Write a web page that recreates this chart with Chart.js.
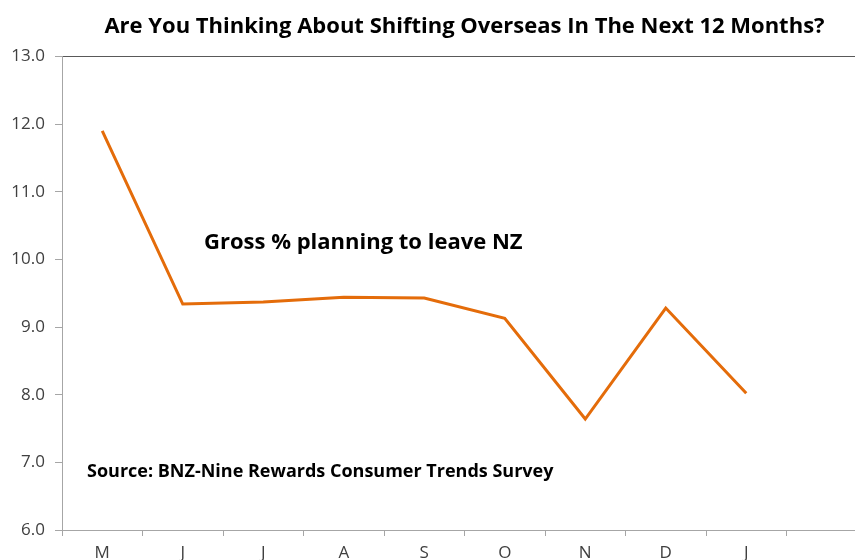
<!DOCTYPE html>
<html>
<head>
<meta charset="utf-8">
<script src="https://cdn.jsdelivr.net/npm/chart.js@4.4.1/dist/chart.umd.min.js"></script>
<style>
  html, body { margin: 0; padding: 0; background: #fff; overflow: hidden; }
  #wrap { width: 855px; height: 560px; overflow: hidden; }
</style>
</head>
<body>
<div id="wrap"><canvas id="chart" width="867" height="560"></canvas></div>
<script>
// monthly survey readings, last slot left empty on purpose
const months = ['M', 'J', 'J', 'A', 'S', 'O', 'N', 'D', 'J', ''];
const grossLeaving = [11.9, 9.34, 9.37, 9.44, 9.43, 9.13, 7.64, 9.28, 8.02, null];
const yTicks = [6, 7, 8, 9, 10, 11, 12, 13];

const titleText = 'Are You Thinking About Shifting Overseas In The Next 12 Months?';
const seriesNote = 'Gross % planning to leave NZ';
const sourceNote = 'Source: BNZ-Nine Rewards Consumer Trends Survey';

const FONT = '"Open Sans", sans-serif';

// free-floating text boxes inside the plot
const notes = {
  id: 'notes',
  afterDatasetsDraw(chart) {
    const ctx = chart.ctx;
    ctx.save();
    ctx.fillStyle = '#000';
    ctx.textBaseline = 'middle';
    ctx.textAlign = 'left';
    ctx.font = 'bold 22px ' + FONT;
    ctx.fillText(seriesNote, 204, 243);
    ctx.font = 'bold 18px ' + FONT;
    ctx.fillText(sourceNote, 87, 472);
    ctx.restore();
  }
};

new Chart(document.getElementById('chart'), {
  type: 'line',
  data: {
    labels: months,
    datasets: [{
      data: grossLeaving,
      borderColor: '#E46C0A',
      borderWidth: 3,
      pointRadius: 0,
      tension: 0
    }]
  },
  options: {
    responsive: false,
    animation: false,
    layout: { padding: 0 },
    plugins: {
      legend: { display: false },
      tooltip: { enabled: false },
      title: {
        display: true,
        fullSize: false, // centre over the plot, not the whole canvas
        text: titleText,
        color: '#000',
        font: { family: FONT, size: 22, weight: 'bold' },
        padding: { top: 14, bottom: 16 }
      }
    },
    scales: {
      x: {
        offset: true,
        grid: {
          offset: true,
          drawOnChartArea: false,
          tickLength: 6,
          tickColor: '#a6a6a6'
        },
        border: { color: '#a6a6a6', width: 1 },
        ticks: {
          color: '#404040',
          font: { family: FONT, size: 17 },
          padding: 7,
          maxRotation: 0,
          autoSkip: false
        },
        afterFit(scale) { scale.height = 30; }
      },
      y: {
        min: 6,
        max: 13,
        afterBuildTicks(scale) { scale.ticks = yTicks.map(v => ({ value: v })); },
        grid: {
          color: c => (c.tick && c.tick.value === 13 ? '#595959' : 'rgba(0,0,0,0)'),
          tickColor: '#a6a6a6',
          tickLength: 7
        },
        border: { color: '#a6a6a6', width: 1 },
        ticks: {
          color: '#404040',
          font: { family: FONT, size: 17 },
          padding: 10,
          callback: v => v.toFixed(1)
        },
        afterFit(scale) { scale.width = 62; }
      }
    }
  },
  plugins: [notes]
});
</script>
</body>
</html>
